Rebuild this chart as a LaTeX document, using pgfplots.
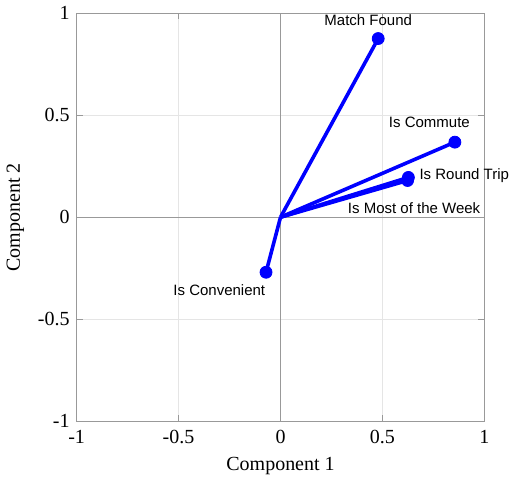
\documentclass[border=0pt]{standalone}
\usepackage{pgfplots}
\pgfplotsset{compat=1.18}
\usepackage{fontspec}
\setmainfont{Liberation Serif}
\newfontfamily\arial{Liberation Sans}
\begin{document}
\begin{tikzpicture}
\begin{axis}[
  scale only axis,
  clip=false,
  width=204pt, height=204pt,
  xmin=-1, xmax=1, ymin=-1, ymax=1,
  xtick={-1,-0.5,0,0.5,1},
  ytick={-1,-0.5,0,0.5,1},
  /pgf/number format/assume math mode=true,
  tick label style={font=\fontsize{10}{12}\selectfont},
  xticklabel style={yshift=-1pt},
  label style={font=\fontsize{10.5}{12}\selectfont},
  xlabel={Component 1},
  ylabel={Component 2},
  xlabel style={yshift=-1pt},
  grid=major,
  grid style={gray!20, line width=0.4pt},
  axis line style={gray!80},
  tick style={gray!80},
  tick align=inside,
  major tick length=3pt,
  axis x line=box, axis y line=box,
]
\draw[gray!80, line width=0.5pt] (axis cs:-1,0) -- (axis cs:1,0);
\draw[gray!80, line width=0.5pt] (axis cs:0,-1) -- (axis cs:0,1);
\addplot[blue, line width=1.8pt, no marks] coordinates {(0,0) (0.479,0.876)};
\addplot[blue, line width=1.8pt, no marks] coordinates {(0,0) (0.855,0.368)};
\addplot[blue, line width=1.8pt, no marks] coordinates {(0,0) (0.627,0.195)};
\addplot[blue, line width=1.8pt, no marks] coordinates {(0,0) (0.623,0.180)};
\addplot[blue, line width=1.8pt, no marks] coordinates {(0,0) (-0.071,-0.270)};
\addplot[only marks, mark=*, mark size=3pt, blue] coordinates {
  (0.479,0.876) (0.855,0.368) (0.627,0.195) (0.623,0.180) (-0.071,-0.270)};
\node[font=\arial\fontsize{7.5}{9}\selectfont] at (axis cs:0.43,0.965) {Match Found};
\node[font=\arial\fontsize{7.5}{9}\selectfont] at (axis cs:0.73,0.465) {Is Commute};
\node[font=\arial\fontsize{7.5}{9}\selectfont, anchor=west, inner sep=1pt] at (axis cs:0.67,0.205) {Is Round Trip};
\node[font=\arial\fontsize{7.5}{9}\selectfont] at (axis cs:0.655,0.045) {Is Most of the Week};
\node[font=\arial\fontsize{7.5}{9}\selectfont] at (axis cs:-0.30,-0.36) {Is Convenient};
\end{axis}
\end{tikzpicture}
\end{document}
